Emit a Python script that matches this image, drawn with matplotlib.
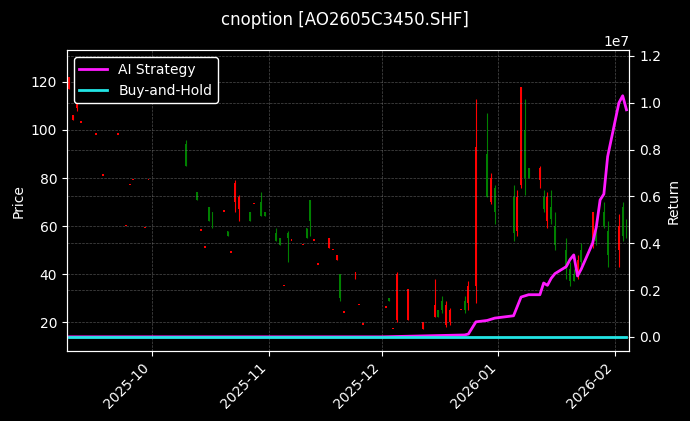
import matplotlib

matplotlib.use("Agg")
import matplotlib.dates as mdates
import matplotlib.pyplot as plt
import numpy as np
import pandas as pd

# daily candles: date, open, high, low, close
dates = ["2025-09-09", "2025-09-10", "2025-09-11", "2025-09-12", "2025-09-16", "2025-09-17",
         "2025-09-18", "2025-09-19", "2025-09-22", "2025-09-24", "2025-09-25", "2025-09-26",
         "2025-09-29", "2025-09-30", "2025-10-10", "2025-10-13", "2025-10-14", "2025-10-15",
         "2025-10-16", "2025-10-17", "2025-10-20", "2025-10-21", "2025-10-22", "2025-10-23",
         "2025-10-24", "2025-10-27", "2025-10-28", "2025-10-30", "2025-10-31", "2025-11-03",
         "2025-11-04", "2025-11-05", "2025-11-06", "2025-11-07", "2025-11-10", "2025-11-11",
         "2025-11-12", "2025-11-13", "2025-11-14", "2025-11-17", "2025-11-18", "2025-11-19",
         "2025-11-20", "2025-11-21", "2025-11-24", "2025-11-25", "2025-11-26", "2025-12-02",
         "2025-12-03", "2025-12-04", "2025-12-05", "2025-12-08", "2025-12-12", "2025-12-15",
         "2025-12-16", "2025-12-17", "2025-12-18", "2025-12-19", "2025-12-22", "2025-12-23",
         "2025-12-24", "2025-12-26", "2025-12-29", "2025-12-30", "2025-12-31", "2026-01-05",
         "2026-01-06", "2026-01-07", "2026-01-08", "2026-01-09", "2026-01-12", "2026-01-13",
         "2026-01-14", "2026-01-15", "2026-01-16", "2026-01-19", "2026-01-20", "2026-01-21",
         "2026-01-22", "2026-01-23", "2026-01-26", "2026-01-27", "2026-01-29", "2026-01-30",
         "2026-02-02", "2026-02-03", "2026-02-04"]
opens = [122, 106, 113, 103, 98, 122, 81, 113, 98, 60, 77, 79, 59, 79, 85, 71, 58, 51,
         62, 62, 66, 56, 49, 78, 72, 62, 69, 64, 64, 54, 52, 35, 55, 54, 52, 55, 62, 54, 44,
         55, 50, 48, 30, 24, 41, 27, 19, 26, 29, 17, 40, 34, 20, 27, 22, 25, 27, 25, 25, 25,
         35, 93, 72, 80, 66, 57, 72, 118, 80, 80, 84, 67, 72, 63, 52, 42, 37, 37, 46, 45,
         66, 54, 60, 48, 60, 56, 56]
highs = [122, 106, 114, 103, 98, 122, 81, 116, 98, 60, 77, 79, 59, 79, 96, 74, 58, 51,
         68, 66, 66, 58, 49, 79, 73, 66, 69, 74, 66, 59, 55, 35, 58, 54, 52, 59, 71, 54, 44,
         55, 50, 48, 40, 24, 41, 27, 19, 26, 30, 17, 41, 34, 20, 38, 25, 31, 29, 26, 25, 31,
         37, 113, 107, 82, 77, 77, 75, 118, 113, 84, 85, 75, 74, 75, 66, 55, 45, 42, 48, 53,
         66, 63, 70, 62, 65, 70, 63]
lows = [117, 104, 108, 103, 98, 120, 81, 111, 98, 60, 77, 79, 59, 79, 85, 71, 58, 51,
        62, 59, 66, 56, 49, 66, 62, 62, 69, 64, 64, 54, 52, 35, 45, 54, 52, 55, 56, 54, 44,
        51, 50, 46, 29, 24, 38, 27, 19, 26, 29, 17, 20, 21, 17, 22, 22, 24, 18, 19, 25, 24,
        25, 28, 72, 69, 61, 54, 56, 76, 73, 80, 76, 66, 59, 61, 50, 38, 35, 37, 38, 44,
        51, 52, 59, 43, 43, 54, 55]
closes = [117, 104, 109, 103, 98, 120, 81, 111, 98, 60, 77, 79, 59, 79, 94, 74, 58, 51,
          68, 66, 66, 58, 49, 70, 67, 66, 69, 70, 66, 57, 55, 35, 57, 54, 52, 59, 71, 54, 44,
          51, 50, 46, 40, 24, 38, 27, 19, 26, 30, 17, 21, 21, 17, 22, 25, 29, 19, 20, 25, 29,
          28, 35, 90, 70, 76, 72, 58, 77, 100, 84, 79, 72, 62, 68, 60, 50, 42, 40, 39, 50,
          54, 60, 66, 58, 50, 68, 60]

# cumulative return of the strategy (x 1e7)
strat_dates = ["2025-09-09", "2025-12-01", "2025-12-23", "2025-12-24", "2025-12-26",
               "2025-12-29", "2025-12-30", "2025-12-31", "2026-01-05", "2026-01-06",
               "2026-01-07", "2026-01-08", "2026-01-09", "2026-01-12", "2026-01-13",
               "2026-01-14", "2026-01-15", "2026-01-16", "2026-01-19", "2026-01-20",
               "2026-01-21", "2026-01-22", "2026-01-23", "2026-01-26", "2026-01-27",
               "2026-01-28", "2026-01-29", "2026-01-30", "2026-02-02", "2026-02-03",
               "2026-02-04"]
strat_vals = [0.0, 0.0, 0.008, 0.012, 0.064, 0.07, 0.075, 0.08, 0.09, 0.13, 0.17, 0.175,
              0.18, 0.18, 0.23, 0.22, 0.25, 0.27, 0.30, 0.33, 0.35, 0.26, 0.29, 0.40, 0.47,
              0.585, 0.61, 0.77, 1.0, 1.03, 0.97]
bh_vals = [0.0, 0.0]
bh_dates = ["2025-09-09", "2026-02-04"]

plt.style.use("dark_background")
fig = plt.figure(figsize=(6.9, 4.21), dpi=100)
ax = fig.add_axes([0.097, 0.166, 0.815, 0.715])
ax2 = ax.twinx()

x = mdates.date2num(pd.to_datetime(dates))
o, h, l, c = map(np.array, (opens, highs, lows, closes))
cols = np.where(c > o, "green", "red")
ax.vlines(x, l, h, colors=cols, linewidth=0.8)
body_lo = np.minimum(o, c)
body_h = np.maximum(np.abs(c - o), 0.6)
ax.bar(x, body_h, bottom=body_lo, width=0.5, color=cols, linewidth=0)

sx = pd.to_datetime(strat_dates)
ax2.plot(sx, np.array(strat_vals) * 1e7, color="#ff1aff", linewidth=2, label="AI Strategy")
ax2.plot(pd.to_datetime(bh_dates), np.array(bh_vals) * 1e7, color="#22e5e5", linewidth=2,
         label="Buy-and-Hold")

ax.set_ylim(8.0, 133.2)
ax.set_yticks([20, 40, 60, 80, 100, 120])
ax2.set_ylim(-0.061e7, 1.225e7)
ax2.set_yticks(np.arange(0, 1.21, 0.2) * 1e7)
ax.set_xlim(mdates.date2num(pd.Timestamp("2025-09-08 08:00")),
            mdates.date2num(pd.Timestamp("2026-02-04 18:00")))
ax.xaxis.set_major_locator(mdates.MonthLocator())
ax.xaxis.set_major_formatter(mdates.DateFormatter("%Y-%m"))
plt.setp(ax.get_xticklabels(), rotation=45, ha="right")

ax.grid(True, color="grey", linestyle="--", linewidth=0.5, alpha=0.6)
ax2.grid(True, color="grey", linestyle="--", linewidth=0.5, alpha=0.6)
ax.set_ylabel("Price")
ax2.set_ylabel("Return")
ax.set_facecolor("black")
fig.suptitle("cnoption [AO2605C3450.SHF]", fontsize=12, y=0.975)
leg = ax2.legend(loc="upper left", facecolor="black", edgecolor="white", framealpha=1)

fig.savefig("out.png", dpi=100, facecolor="black")
